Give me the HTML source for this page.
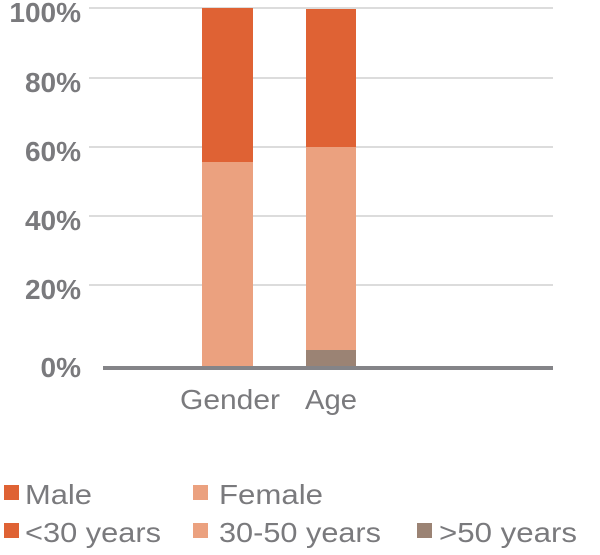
<!DOCTYPE html>
<html><head><style>
body{margin:0;background:#fff;width:600px;height:550px;overflow:hidden;font-family:"Liberation Sans",Arial,sans-serif}
</style></head><body>
<svg width="600" height="550" xmlns="http://www.w3.org/2000/svg">
<g stroke="#dcdcdc" stroke-width="2">
<line x1="89" x2="553" y1="8" y2="8"/>
<line x1="89" x2="553" y1="78" y2="78"/>
<line x1="89" x2="553" y1="147" y2="147"/>
<line x1="89" x2="553" y1="216" y2="216"/>
<line x1="89" x2="553" y1="285" y2="285"/>
</g>
<g font-size="28" font-weight="bold" fill="#7a7a7d" text-anchor="end">
<text x="81" y="22">100%</text>
<text x="81" y="92">80%</text>
<text x="81" y="161">60%</text>
<text x="81" y="230">40%</text>
<text x="81" y="299">20%</text>
<text x="81" y="377">0%</text>
</g>
<rect x="202" y="8" width="51" height="154" fill="#df6234"/>
<rect x="202" y="162" width="51" height="205" fill="#eba17f"/>
<rect x="306" y="9" width="50" height="138" fill="#df6234"/>
<rect x="306" y="147" width="50" height="203" fill="#eba17f"/>
<rect x="306" y="350" width="50" height="17" fill="#9b8374"/>
<line x1="103" x2="553" y1="368" y2="368" stroke="#848488" stroke-width="4"/>
<g font-size="28" fill="#7a7a7d">
<text x="180" y="409" textLength="100" lengthAdjust="spacingAndGlyphs">Gender</text>
<text x="305" y="409" textLength="52" lengthAdjust="spacingAndGlyphs">Age</text>
<rect x="4" y="485" width="15" height="15" fill="#df6234"/>
<text x="25" y="504" textLength="67" lengthAdjust="spacingAndGlyphs">Male</text>
<rect x="193" y="485" width="15" height="15" fill="#eba17f"/>
<text x="219" y="504" textLength="104" lengthAdjust="spacingAndGlyphs">Female</text>
<rect x="4" y="523" width="15" height="15" fill="#df6234"/>
<text x="25" y="542" textLength="136" lengthAdjust="spacingAndGlyphs">&lt;30 years</text>
<rect x="193" y="523" width="15" height="15" fill="#eba17f"/>
<text x="219" y="542" textLength="162" lengthAdjust="spacingAndGlyphs">30-50 years</text>
<rect x="417" y="523" width="15" height="15" fill="#9b8374"/>
<text x="439" y="542" textLength="138" lengthAdjust="spacingAndGlyphs">&gt;50 years</text>
</g>
</svg>
</body></html>
